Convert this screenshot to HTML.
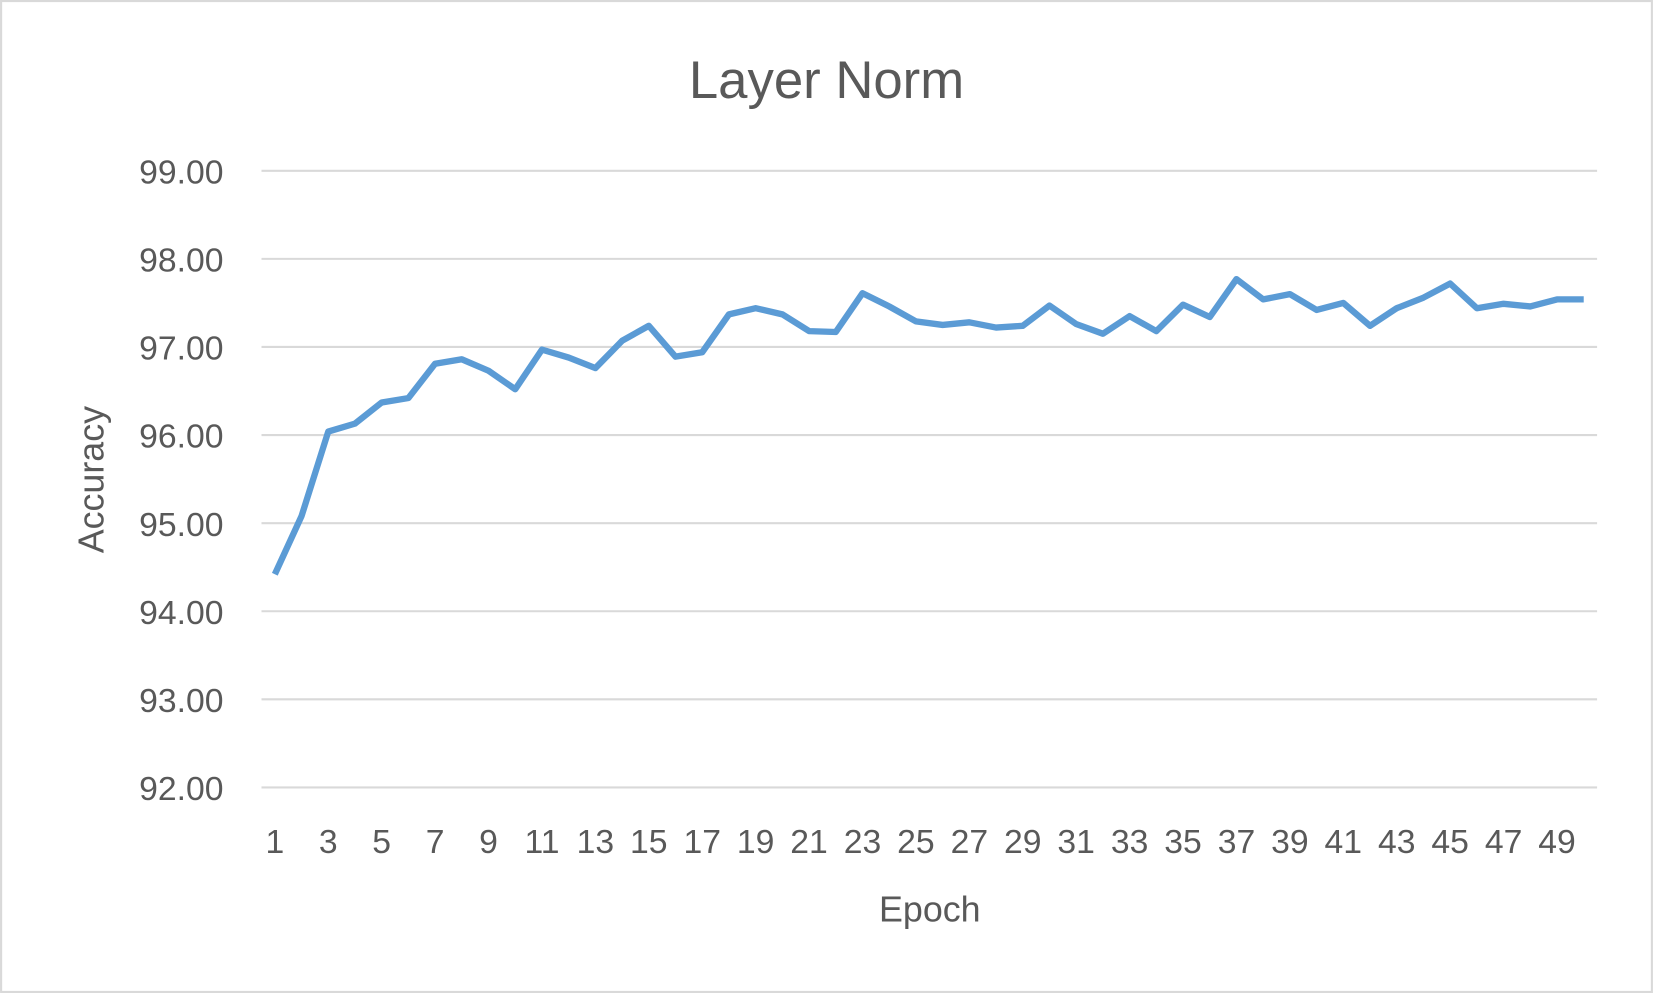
<!DOCTYPE html>
<html><head><meta charset="utf-8"><style>
html,body{margin:0;padding:0;background:#fff;}
svg{display:block;}
text{font-family:"Liberation Sans","DejaVu Sans",sans-serif;fill:#595959;}
</style></head><body>
<svg id="chart" width="1653" height="993" viewBox="0 0 1568 942">
<rect x="1" y="1" width="1566" height="940" fill="#fff" stroke="#d9d9d9" stroke-width="2"/>
<text x="784" y="93" font-size="50" text-anchor="middle">Layer Norm</text>
<text x="882" y="874" font-size="34" text-anchor="middle">Epoch</text>
<text transform="translate(98,455) rotate(-90)" font-size="34" text-anchor="middle">Accuracy</text>
<g id="grid"></g><g id="yticks"></g><g id="xticks"></g><g id="series"></g>
</svg>
<script>
const epochs = Array.from({length:50},(_,i)=>i+1);
const accuracy = [94.42,95.08,96.04,96.13,96.37,96.42,96.81,96.86,96.73,96.52,96.97,96.88,96.76,97.07,97.24,96.89,96.94,97.37,97.44,97.37,97.18,97.17,97.61,97.46,97.29,97.25,97.28,97.22,97.24,97.47,97.26,97.15,97.35,97.18,97.48,97.34,97.77,97.54,97.60,97.42,97.50,97.24,97.44,97.56,97.72,97.44,97.49,97.46,97.54,97.54];
const yTicks = [92,93,94,95,96,97,98,99];
const ns="http://www.w3.org/2000/svg";
const L=248,R=1515,yMin=92,yMax=99,yTop=162,yBot=747;
const step=(R-L)/epochs.length;
function xs(i){return L+step*(i+0.5);}
function ys(v){return yBot-(v-yMin)/(yMax-yMin)*(yBot-yTop);}
const grid=document.getElementById('grid'),yt=document.getElementById('yticks'),xt=document.getElementById('xticks'),se=document.getElementById('series');
yTicks.forEach(v=>{
  const l=document.createElementNS(ns,'line');
  l.setAttribute('x1',L);l.setAttribute('x2',R);l.setAttribute('y1',ys(v));l.setAttribute('y2',ys(v));
  l.setAttribute('stroke','#d9d9d9');l.setAttribute('stroke-width','2');
  
  
  grid.appendChild(l);
  const t=document.createElementNS(ns,'text');
  t.setAttribute('x',212);t.setAttribute('y',ys(v)+12);t.setAttribute('font-size','32');t.setAttribute('text-anchor','end');
  t.textContent=v.toFixed(2);
  
  
  yt.appendChild(t);
});
epochs.forEach((e,i)=>{
  if(e%2!==1)return;
  const t=document.createElementNS(ns,'text');
  t.setAttribute('x',xs(i));t.setAttribute('y',809);t.setAttribute('font-size','32');t.setAttribute('text-anchor','middle');
  t.textContent=e;
  
  
  xt.appendChild(t);
});
const p=document.createElementNS(ns,'polyline');
p.setAttribute('points',accuracy.map((v,i)=>xs(i)+','+ys(v)).join(' '));
p.setAttribute('fill','none');p.setAttribute('stroke','#5B9BD5');p.setAttribute('stroke-width','6');p.setAttribute('stroke-linejoin','round');


se.appendChild(p);
</script>
</body></html>
